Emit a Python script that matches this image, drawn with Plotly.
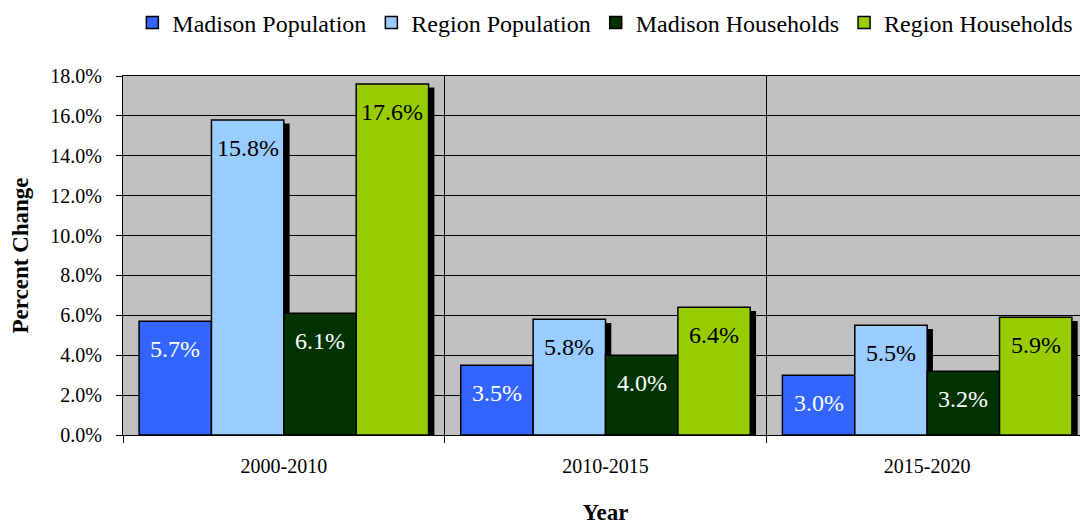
import plotly.graph_objects as go

# Data
perioder = ["2000-2010", "2010-2015", "2015-2020"]
serie_namn = ["Madison Population", "Region Population", "Madison Households", "Region Households"]
madison_pop = [5.7, 3.5, 3.0]
region_pop = [15.8, 5.8, 5.5]
madison_hh = [6.1, 4.0, 3.2]
region_hh = [17.6, 6.4, 5.9]
y_ticks = [0, 2, 4, 6, 8, 10, 12, 14, 16, 18]

serier = [madison_pop, region_pop, madison_hh, region_hh]
farger = ["#3366FF", "#99CCFF", "#003300", "#99CC00"]
textfarger = ["white", "black", "white", "black"]

FONT = "Liberation Serif"
bredd = 0.225
start = -0.45
skugga_dx = 0.018
skugga_dy = -0.18

fig = go.Figure()

# Skuggor först (ritas under staplarna)
for i, vals in enumerate(serier):
    fig.add_trace(go.Bar(
        x=perioder, y=vals, base=skugga_dy,
        width=bredd, offset=start + i * bredd + skugga_dx,
        marker=dict(color="black", line=dict(width=0)),
        showlegend=False, hoverinfo="skip"
    ))

for i, vals in enumerate(serier):
    fig.add_trace(go.Bar(
        x=perioder, y=vals, name=serie_namn[i],
        width=bredd, offset=start + i * bredd,
        marker=dict(color=farger[i], line=dict(width=1.5, color="black")),
        hovertemplate=f"{serie_namn[i]}<br>%{{x}}: %{{y:.1f}}%<extra></extra>"
    ))

# Etiketter inne i staplarna
for i, vals in enumerate(serier):
    for j, v in enumerate(vals):
        fig.add_annotation(
            x=j + start + (i + 0.5) * bredd, y=v, xref="x", yref="y",
            text=f"{v:.1f}%", showarrow=False, yanchor="middle", yshift=-28,
            font=dict(family=FONT, size=24, color=textfarger[i])
        )

# sidan har 8px marginal i body -> figuren görs 8px mindre
fig.update_layout(
    width=1080, height=519,
    barmode="overlay",
    plot_bgcolor="#C0C0C0", paper_bgcolor="white",
    font=dict(family=FONT, color="black"),
    margin=dict(l=115, r=0, t=68, b=92, autoexpand=False),
    legend=dict(
        orientation="h", x=0.99, xanchor="right", y=1.148, yanchor="middle",
        font=dict(family=FONT, size=24), traceorder="normal",
        itemwidth=30, tracegroupgap=0
    ),
    xaxis=dict(
        type="category", range=[-0.5, 2.5],
        tickson="boundaries", ticks="outside", ticklen=7, tickcolor="black",
        ticklabelstandoff=13,
        showgrid=True, gridcolor="black", gridwidth=1,
        showline=True, linecolor="black", linewidth=1, mirror=True,
        tickfont=dict(family=FONT, size=20),
        title=dict(text="<b>Year</b>", font=dict(family=FONT, size=23), standoff=27)
    ),
    yaxis=dict(
        range=[0, 18], tickvals=y_ticks, ticktext=[f"{v:.1f}%" for v in y_ticks],
        ticks="outside", ticklen=6, tickcolor="black", ticklabelstandoff=10,
        showgrid=True, gridcolor="black", gridwidth=1, zeroline=False,
        showline=True, linecolor="black", linewidth=1, mirror=True,
        tickfont=dict(family=FONT, size=20),
        title=dict(text="<b>Percent Change</b>", font=dict(family=FONT, size=23), standoff=18)
    ),
)

fig.write_html("out.html")
